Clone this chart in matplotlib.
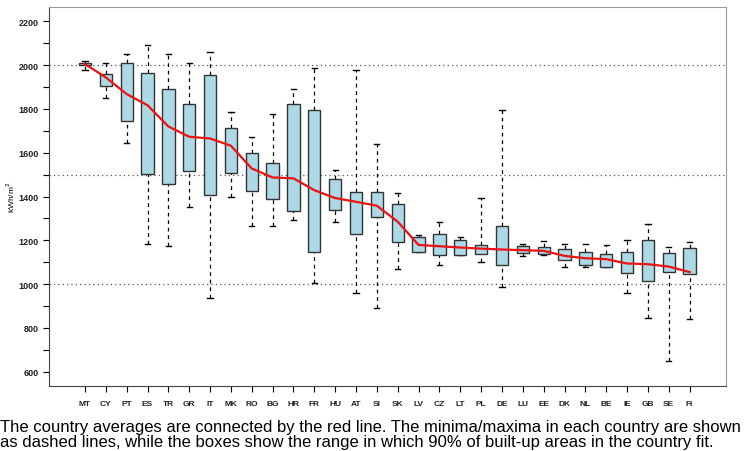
import numpy as np
import matplotlib
matplotlib.use("Agg")
import matplotlib.pyplot as plt
from matplotlib.ticker import MultipleLocator

plt.rcParams['font.family'] = ['Liberation Sans', 'DejaVu Sans']

# values, kWh/m2
countries = ['MT', 'CY', 'PT', 'ES', 'TR', 'GR', 'IT', 'MK', 'RO', 'BG',
             'HR', 'FR', 'HU', 'AT', 'SI', 'SK', 'LV', 'CZ', 'LT', 'PL',
             'DE', 'LU', 'EE', 'DK', 'NL', 'BE', 'IE', 'GB', 'SE', 'FI']
minima = [1977, 1849, 1644, 1181, 1172, 1350, 935, 1396, 1266, 1265,
          1291, 1005, 1282, 958, 892, 1071, 1145, 1085, 1132, 1102,
          986, 1127, 1133, 1079, 1080, 1079, 958, 846, 650, 839]
q05 = [2000, 1906, 1747, 1502, 1455, 1516, 1409, 1507, 1425, 1387,
       1332, 1146, 1340, 1231, 1308, 1194, 1145, 1133, 1132, 1138,
       1085, 1142, 1137, 1109, 1085, 1079, 1050, 1015, 1056, 1044]
q95 = [2012, 1960, 2008, 1965, 1893, 1823, 1956, 1712, 1601, 1551,
       1823, 1795, 1481, 1422, 1422, 1367, 1214, 1230, 1203, 1180,
       1264, 1174, 1171, 1159, 1147, 1139, 1147, 1203, 1142, 1164]
maxima = [2020, 2012, 2053, 2094, 2053, 2011, 2058, 1785, 1673, 1778,
          1893, 1985, 1519, 1977, 1639, 1418, 1223, 1285, 1217, 1395,
          1795, 1185, 1195, 1182, 1182, 1177, 1200, 1276, 1171, 1191]
means = [2005, 1944, 1868, 1817, 1720, 1673, 1665, 1632, 1528, 1487,
         1483, 1429, 1393, 1376, 1358, 1285, 1179, 1173, 1167, 1162,
         1158, 1155, 1152, 1129, 1118, 1114, 1094, 1091, 1080, 1055]

caption = ("The country averages are connected by the red line. The minima/maxima in each country are shown\n"
           "as dashed lines, while the boxes show the range in which 90% of built-up areas in the country fit.")

fig = plt.figure(figsize=(7.52, 4.52), dpi=100)
ax = fig.add_axes([0.065, 0.144, 0.9, 0.838])

x = np.arange(1, len(countries) + 1)
box_w = 0.59
cap_w = 0.25

for xi, lo, b0, b1, hi in zip(x, minima, q05, q95, maxima):
    ax.plot([xi, xi], [lo, b0], color='black', lw=0.9, ls=(0, (3, 3)), zorder=2)
    ax.plot([xi, xi], [b1, hi], color='black', lw=0.9, ls=(0, (3, 3)), zorder=2)
    ax.plot([xi - cap_w / 2, xi + cap_w / 2], [lo, lo], color='black', lw=1.0, zorder=2)
    ax.plot([xi - cap_w / 2, xi + cap_w / 2], [hi, hi], color='black', lw=1.0, zorder=2)

ax.bar(x, np.array(q95) - np.array(q05), bottom=q05, width=box_w,
       color='#add8e6', edgecolor='#333333', linewidth=1.0, zorder=3)

ax.plot(x, means, color='#ee1111', lw=1.6, zorder=4)

for level in (1000, 1500, 2000):
    ax.axhline(level, color='#555555', lw=0.9, ls=(0, (1, 2.5)), zorder=1)

ax.set_xlim(-0.73, 31.73)
ax.set_ylim(535, 2265)
ax.set_xticks(x)
ax.set_xticklabels(countries, fontsize=6, fontweight='bold', color='#222222')
ax.yaxis.set_major_locator(MultipleLocator(200))
ax.yaxis.set_minor_locator(MultipleLocator(100))
ax.tick_params(axis='y', which='major', labelsize=6.5, length=4, width=0.8)
ax.tick_params(axis='y', which='minor', length=4, width=0.8)
ax.tick_params(axis='x', length=4, width=0.8, pad=6)
for lab in ax.get_yticklabels():
    lab.set_fontweight('bold')
    lab.set_color('#222222')
ax.set_ylabel('kWh/m$^2$', fontsize=6, labelpad=1)

for side in ('top', 'right'):
    ax.spines[side].set_color('#999999')
for side in ('left', 'bottom'):
    ax.spines[side].set_color('#444444')

fig.text(0.0, 0.004, caption, fontsize=11.95, ha='left', va='bottom',
         linespacing=1.0)

fig.savefig('out.png', dpi=100)
